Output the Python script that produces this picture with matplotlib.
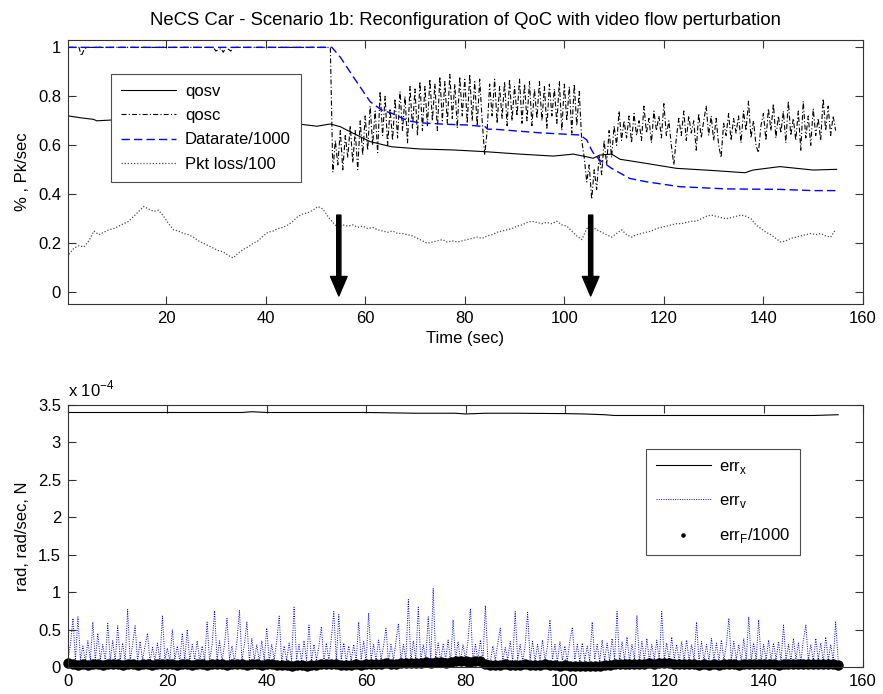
import numpy as np
import matplotlib
matplotlib.use("Agg")
import matplotlib.pyplot as plt

plt.rcParams['font.family'] = ['Liberation Sans', 'DejaVu Sans']
plt.rcParams['font.size'] = 12

# ---------------- top panel data ----------------
title_text = "NeCS Car - Scenario 1b: Reconfiguration of QoC with video flow perturbation"

qosv_t = [0.3, 3, 5.4, 6.1, 8.8, 12, 16, 20, 25, 30, 35, 40, 44, 47, 50.3, 53, 55, 57.6, 61, 65.3,
          71, 77.7, 84.1, 91.1, 97.8, 101.8, 104.5, 105.8, 107.1, 109.5, 111.2, 116.5, 122.5, 129.9,
          136.3, 137.9, 143.3, 150, 154.7]
qosv_v = [0.72, 0.712, 0.706, 0.70, 0.703, 0.70, 0.697, 0.695, 0.693, 0.69, 0.69, 0.688, 0.687, 0.686,
          0.678, 0.687, 0.676, 0.649, 0.615, 0.594, 0.585, 0.581, 0.574, 0.564, 0.556, 0.564, 0.553,
          0.547, 0.56, 0.564, 0.543, 0.526, 0.506, 0.497, 0.488, 0.499, 0.513, 0.499, 0.502]

qosc_flat_t = [0.3, 2.5, 3.0, 3.5, 4.0, 29.5, 30.0, 31.0, 31.5, 32.0, 33.0, 33.5, 53.0]
qosc_flat_v = [1.0, 1.0, 0.965, 0.99, 1.0, 1.0, 0.985, 0.995, 0.98, 1.0, 0.985, 1.0, 1.0]
qosc_osc_start, qosc_osc_step = 53.5, 0.5
qosc_osc_v = [
    0.49, 0.62, 0.52, 0.66, 0.50, 0.64, 0.55, 0.68, 0.53, 0.66, 0.50, 0.70, 0.56,
    0.72, 0.58, 0.76, 0.60, 0.74, 0.57, 0.82, 0.64, 0.80, 0.60, 0.75,
    0.62, 0.79, 0.63, 0.82, 0.66, 0.80, 0.61, 0.84, 0.67, 0.83, 0.64, 0.86, 0.66, 0.84,
    0.68, 0.87, 0.70, 0.85, 0.66, 0.88, 0.70, 0.86, 0.69, 0.89, 0.71, 0.85, 0.67, 0.88,
    0.72, 0.87, 0.69, 0.89, 0.70, 0.86, 0.68, 0.87, 0.70, 0.56,
    0.66, 0.85, 0.72, 0.87, 0.69, 0.84, 0.71, 0.86, 0.68, 0.87, 0.70, 0.84, 0.72, 0.87,
    0.69, 0.85, 0.70, 0.86, 0.68, 0.83, 0.71, 0.86, 0.70, 0.84, 0.67, 0.85, 0.72, 0.83,
    0.69, 0.86, 0.66, 0.85,
    0.70, 0.84, 0.65, 0.85, 0.68, 0.82, 0.62, 0.55,
    0.45, 0.52, 0.38, 0.50, 0.42, 0.56, 0.48, 0.62, 0.52, 0.66, 0.55, 0.68,
    0.60, 0.74, 0.62, 0.70, 0.63, 0.72, 0.61, 0.73, 0.64, 0.70, 0.62, 0.76, 0.65, 0.71,
    0.61, 0.74, 0.66, 0.72, 0.63, 0.77, 0.64, 0.70, 0.60, 0.52, 0.63, 0.71, 0.64, 0.74,
    0.62, 0.72, 0.65, 0.70, 0.58, 0.73, 0.63, 0.70, 0.76, 0.64, 0.72, 0.62, 0.71, 0.60,
    0.55, 0.69, 0.64, 0.73, 0.62, 0.71, 0.65, 0.72, 0.61, 0.74, 0.66, 0.78, 0.63, 0.70,
    0.60, 0.57, 0.68, 0.73, 0.62, 0.75, 0.66, 0.77, 0.63, 0.72, 0.65, 0.74, 0.61, 0.78,
    0.64, 0.71, 0.62, 0.74, 0.58, 0.78, 0.63, 0.72, 0.60, 0.75, 0.64, 0.71, 0.62, 0.79,
    0.66, 0.76, 0.64, 0.72, 0.66]

datarate_t = [0.3, 53.0, 53.3, 55, 57.6, 61, 63.3, 65.3, 68.6, 71, 76, 80.4, 84.1, 84.6, 86.4, 95.1,
              103.2, 104.5, 105.5, 105.9, 107.1, 109.5, 113.1, 116.5, 123.2, 132.5, 143.3, 150, 154.7]
datarate_v = [1.0, 1.0, 1.0, 0.96, 0.88, 0.778, 0.744, 0.731, 0.70, 0.692, 0.686, 0.683, 0.676, 0.666,
              0.665, 0.651, 0.642, 0.622, 0.58, 0.567, 0.54, 0.506, 0.465, 0.451, 0.431, 0.422, 0.42,
              0.415, 0.415]

pkt_start, pkt_step = 0.5, 1.0
pkt_v = [
    0.155, 0.18, 0.19, 0.185, 0.21, 0.25, 0.235, 0.245, 0.255, 0.26,
    0.27, 0.28, 0.29, 0.31, 0.33, 0.35, 0.34, 0.33, 0.335, 0.31,
    0.28, 0.255, 0.25, 0.24, 0.235, 0.225, 0.21, 0.20, 0.19, 0.18,
    0.17, 0.165, 0.15, 0.14, 0.16, 0.175, 0.185, 0.20, 0.21, 0.23,
    0.245, 0.25, 0.26, 0.265, 0.275, 0.29, 0.31, 0.32, 0.325, 0.335,
    0.35, 0.34, 0.31, 0.285, 0.265, 0.275, 0.27, 0.275, 0.265, 0.27,
    0.26, 0.265, 0.255, 0.25, 0.245, 0.25, 0.24, 0.24, 0.235, 0.23,
    0.22, 0.21, 0.20, 0.205, 0.21, 0.215, 0.205, 0.21, 0.205, 0.21,
    0.215, 0.22, 0.225, 0.22, 0.23, 0.235, 0.245, 0.25, 0.255, 0.26,
    0.27, 0.275, 0.285, 0.29, 0.285, 0.28, 0.285, 0.28, 0.29, 0.275,
    0.27, 0.25, 0.23, 0.215, 0.26, 0.27, 0.255, 0.245, 0.235, 0.225,
    0.24, 0.255, 0.235, 0.225, 0.235, 0.24, 0.245, 0.25, 0.26, 0.265,
    0.27, 0.275, 0.28, 0.28, 0.285, 0.29, 0.29, 0.30, 0.31, 0.315,
    0.31, 0.305, 0.30, 0.305, 0.31, 0.315, 0.31, 0.30, 0.275, 0.26,
    0.245, 0.235, 0.22, 0.205, 0.21, 0.22, 0.225, 0.23, 0.235, 0.24,
    0.235, 0.24, 0.23, 0.225, 0.255]

arrow_times = [54.7, 105.3]
arrow_top, arrow_tip = 0.315, -0.015

# ---------------- bottom panel data (units of 1e-4) ----------------
errx_t = [0, 10, 20, 30, 35, 37, 40, 50, 60, 70, 78, 80, 84, 90, 100, 104, 108, 110, 120, 130, 140, 150, 155]
errx_v = [3.40, 3.40, 3.40, 3.40, 3.40, 3.41, 3.40, 3.40, 3.40, 3.39, 3.39, 3.38, 3.39, 3.39, 3.385,
          3.38, 3.37, 3.36, 3.36, 3.36, 3.36, 3.36, 3.37]

errv_start, errv_step = 0.0, 0.5
errv_v = [
    0.10, 0.30, 0.65, 0.08, 0.67, 0.10, 0.28, 0.07, 0.35, 0.09,
    0.60, 0.08, 0.45, 0.10, 0.30, 0.07, 0.58, 0.09, 0.35, 0.08,
    0.55, 0.10, 0.32, 0.07, 0.77, 0.09, 0.30, 0.55, 0.08, 0.34,
    0.10, 0.28, 0.45, 0.07, 0.26, 0.09, 0.32, 0.08, 0.68, 0.10,
    0.25, 0.08, 0.50, 0.10, 0.28, 0.07, 0.45, 0.09, 0.50, 0.08,
    0.30, 0.10, 0.35, 0.07, 0.28, 0.09, 0.60, 0.08, 0.30, 0.75,
    0.09, 0.35, 0.08, 0.30, 0.65, 0.10, 0.28, 0.07, 0.34, 0.76,
    0.09, 0.30, 0.60, 0.08, 0.38, 0.10, 0.30, 0.07, 0.35, 0.09,
    0.52, 0.08, 0.30, 0.10, 0.34, 0.68, 0.07, 0.28, 0.09, 0.32,
    0.08, 0.80, 0.10, 0.30, 0.07, 0.35, 0.09, 0.56, 0.08, 0.30,
    0.10, 0.28, 0.54, 0.07, 0.32, 0.09, 0.38, 0.74, 0.08, 0.70,
    0.10, 0.32, 0.07, 0.28, 0.09, 0.30, 0.08, 0.60, 0.10, 0.34,
    0.07, 0.72, 0.09, 0.30, 0.08, 0.36, 0.10, 0.28, 0.52, 0.07,
    0.30, 0.09, 0.34, 0.58, 0.08, 0.30, 0.10, 0.90, 0.07, 0.35,
    0.09, 0.80, 0.08, 0.30, 0.10, 0.67, 0.07, 1.05, 0.09, 0.32,
    0.08, 0.30, 0.10, 0.36, 0.07, 0.63, 0.09, 0.34, 0.08, 0.30,
    0.10, 0.35, 0.78, 0.07, 0.30, 0.09, 0.36, 0.08, 0.82, 0.10,
    0.07, 0.28, 0.09, 0.32, 0.52, 0.08, 0.26, 0.10, 0.34, 0.07,
    0.74, 0.09, 0.30, 0.08, 0.28, 0.73, 0.10, 0.34, 0.07, 0.30,
    0.09, 0.36, 0.08, 0.28, 0.63, 0.10, 0.30, 0.07, 0.34, 0.09,
    0.28, 0.08, 0.35, 0.53, 0.10, 0.30, 0.07, 0.32, 0.09, 0.28,
    0.08, 0.60, 0.10, 0.30, 0.07, 0.36, 0.09, 0.32, 0.08, 0.38,
    0.10, 0.74, 0.07, 0.34, 0.09, 0.40, 0.08, 0.30, 0.10, 0.69,
    0.07, 0.34, 0.09, 0.38, 0.08, 0.30, 0.10, 0.36, 0.07, 0.74,
    0.09, 0.32, 0.08, 0.40, 0.10, 0.30, 0.07, 0.34, 0.09, 0.36,
    0.08, 0.30, 0.10, 0.60, 0.07, 0.34, 0.09, 0.30, 0.08, 0.38,
    0.10, 0.32, 0.07, 0.36, 0.09, 0.30, 0.65, 0.08, 0.34, 0.10,
    0.30, 0.07, 0.38, 0.09, 0.67, 0.08, 0.32, 0.10, 0.63, 0.07,
    0.30, 0.09, 0.36, 0.08, 0.32, 0.10, 0.34, 0.07, 0.56, 0.09,
    0.30, 0.08, 0.38, 0.10, 0.32, 0.07, 0.36, 0.56, 0.09, 0.30,
    0.08, 0.38, 0.10, 0.32, 0.07, 0.40, 0.09, 0.30, 0.08, 0.60,
    0.09]

errF_start, errF_step = 0.0, 1.0
errF_v = [
    0.05, 0.04, 0.03, 0.04, 0.03, 0.035, 0.04, 0.03, 0.035, 0.04,
    0.035, 0.03, 0.04, 0.035, 0.03, 0.04, 0.035, 0.03, 0.04, 0.045,
    0.04, 0.035, 0.03, 0.04, 0.035, 0.03, 0.035, 0.04, 0.03, 0.035,
    0.04, 0.035, 0.03, 0.035, 0.04, 0.035, 0.03, 0.04, 0.035, 0.03,
    0.035, 0.04, 0.03, 0.025, 0.03, 0.02, 0.025, 0.03, 0.02, 0.025,
    0.03, 0.035, 0.04, 0.035, 0.04, 0.03, 0.025, 0.03, 0.035, 0.03,
    0.035, 0.04, 0.035, 0.045, 0.05, 0.045, 0.04, 0.05, 0.055, 0.06,
    0.055, 0.06, 0.065, 0.06, 0.07, 0.065, 0.06, 0.07, 0.075, 0.08,
    0.075, 0.07, 0.08, 0.075, 0.04, 0.03, 0.025, 0.03, 0.035, 0.03,
    0.025, 0.03, 0.035, 0.03, 0.025, 0.03, 0.035, 0.03, 0.025, 0.02,
    0.025, 0.02, 0.015, 0.02, 0.015, 0.01, 0.015, 0.02, 0.025, 0.03,
    0.035, 0.04, 0.035, 0.04, 0.045, 0.04, 0.045, 0.05, 0.045, 0.05,
    0.055, 0.05, 0.045, 0.04, 0.035, 0.04, 0.035, 0.03, 0.035, 0.03,
    0.035, 0.03, 0.035, 0.04, 0.035, 0.03, 0.035, 0.04, 0.045, 0.04,
    0.035, 0.04, 0.035, 0.03, 0.035, 0.04, 0.035, 0.04, 0.045, 0.04,
    0.035, 0.04, 0.035, 0.04, 0.035, 0.03]

# ---------------- figure ----------------
fig = plt.figure(figsize=(8.83, 6.94), dpi=100)
ax1 = fig.add_axes([68/883, 1-304/694, 795/883, 264/694])
ax2 = fig.add_axes([68/883, 1-667/694, 795/883, 262/694])

spine_col = '0.2'
for ax in (ax1, ax2):
    for s in ax.spines.values():
        s.set_color(spine_col)
        s.set_linewidth(0.8)
    ax.tick_params(direction='in', top=True, right=True, length=6, width=0.8,
                   color=spine_col, labelsize=12, pad=5)

qosc_t = qosc_flat_t + list(qosc_osc_start + qosc_osc_step*np.arange(len(qosc_osc_v)))
qosc_v = qosc_flat_v + qosc_osc_v
pkt_t = pkt_start + pkt_step*np.arange(len(pkt_v))

ax1.plot(qosv_t, qosv_v, color='k', lw=0.8, label='qosv')
ax1.plot(qosc_t, qosc_v, color='k', lw=0.8, ls=(0, (4.5, 2, 1, 2)), label='qosc')
ax1.plot(datarate_t, datarate_v, color='blue', lw=1.0, ls=(0, (6, 3)), label='Datarate/1000')
ax1.plot(pkt_t, pkt_v, color='0.3', lw=0.9, ls=(0, (1, 1.5)), label='Pkt loss/100')

for at in arrow_times:
    ax1.annotate('', xy=(at, arrow_tip), xytext=(at, arrow_top),
                 arrowprops=dict(facecolor='black', edgecolor='black', width=3,
                                 headwidth=12, headlength=14, shrink=0))

ax1.set_xlim(0.3, 160)
ax1.set_ylim(-0.048, 1.03)
ax1.set_xticks([20, 40, 60, 80, 100, 120, 140, 160])
ax1.set_yticks([0, 0.2, 0.4, 0.6, 0.8, 1.0])
ax1.set_yticklabels(['0', '0.2', '0.4', '0.6', '0.8', '1'])
ax1.set_xlabel('Time (sec)', fontsize=12, labelpad=4)
ax1.set_ylabel('% , Pk/sec', fontsize=12, labelpad=6)
ax1.set_title(title_text, fontsize=13.3, pad=11)

leg1 = ax1.legend(loc='upper left', bbox_to_anchor=(0.0537, 0.871), frameon=True,
                  fancybox=False, edgecolor='0.3', framealpha=1, handlelength=3.3,
                  handletextpad=0.55, labelspacing=0.55, borderpad=0.6, borderaxespad=0)
leg1.get_frame().set_linewidth(0.8)

errv_t = errv_start + errv_step*np.arange(len(errv_v))
errF_t = errF_start + errF_step*np.arange(len(errF_v))

ax2.plot(errx_t, errx_v, color='k', lw=0.8, label='err$_\\mathregular{x}$')
ax2.plot(errv_t, errv_v, color='blue', lw=0.7, ls=(0, (1, 1.4)), label='err$_\\mathregular{v}$')
ax2.plot(errF_t, errF_v, color='k', ls='none', marker='o', markersize=6.5, clip_on=False,
         label='err$_\\mathregular{F}$/1000')

ax2.set_xlim(0, 160)
ax2.set_ylim(0, 3.5)
ax2.set_xticks([0, 20, 40, 60, 80, 100, 120, 140, 160])
ax2.set_yticks([0, 0.5, 1, 1.5, 2, 2.5, 3, 3.5])
ax2.set_yticklabels(['0', '0.5', '1', '1.5', '2', '2.5', '3', '3.5'])
ax2.set_ylabel('rad, rad/sec, N', fontsize=12, labelpad=6)
ax2.text(0.0, 1.02, 'x 10$^{\\mathregular{-4}}$', transform=ax2.transAxes, ha='left', va='bottom', fontsize=12)

leg2 = ax2.legend(loc='upper right', bbox_to_anchor=(0.921, 0.832), frameon=True,
                  fancybox=False, edgecolor='0.3', framealpha=1, handlelength=3.3,
                  handletextpad=0.5, labelspacing=1.0, borderpad=0.6, borderaxespad=0,
                  markerscale=0.35)
leg2.get_frame().set_linewidth(0.8)

fig.savefig('out.png', dpi=100, facecolor='white')
